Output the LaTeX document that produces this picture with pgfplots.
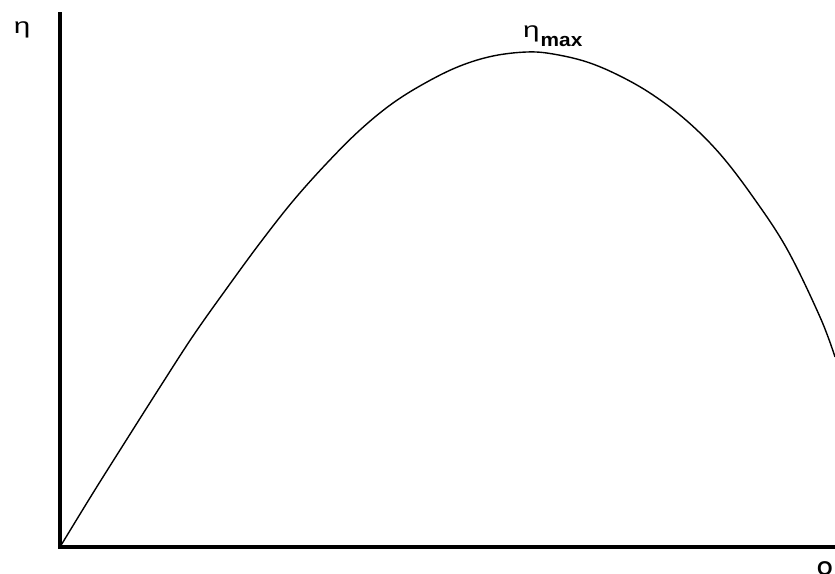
\documentclass[border=0pt]{standalone}
\usepackage{pgfplots}
\pgfplotsset{compat=1.18}
\usepackage{fontspec}
\setmainfont{Liberation Sans}

\begin{document}
\begin{tikzpicture}
\useasboundingbox (-60bp,-27bp) rectangle (775bp,547bp);
\begin{axis}[
  at={(0,0)}, anchor=origin,
  scale only axis,
  width=775bp, height=533bp,
  xmin=0, xmax=775, ymin=0, ymax=533,
  axis lines*=left,
  separate axis lines,
  every outer x axis line/.append style={line width=3.2bp, line cap=rect, -},
  every outer y axis line/.append style={line width=3.2bp, line cap=rect, -},
  ticks=none,
  clip=false,
]
% efficiency curve (pixel units)
\addplot[black, line width=1.4bp, smooth, tension=0.6] coordinates {
  (0,0) (33,54) (67,108) (100,160) (133,211) (167,259) (200,304)
  (233,346) (267,384) (300,417) (333,444) (367,465) (400,481)
  (433,491) (467,495) (493,493) (527,485) (560,471) (593,452)
  (627,426) (660,393) (693,350) (727,298) (760,230) (775,190)
};
\node[anchor=base, inner sep=0pt] at (axis cs:-38,513)
  {\fontsize{22}{22}\selectfont\scalebox{1.35}[1]{η}};
\node[anchor=base west, inner sep=0pt] at (axis cs:463,509)
  {\fontsize{22}{22}\selectfont\scalebox{1.35}[1]{η}\hspace{1bp}\raisebox{-9bp}{\fontsize{19}{19}\selectfont\bfseries\scalebox{1.1}[1]{max}}};
\node[anchor=north west, inner sep=0pt] at (axis cs:757,-14)
  {\fontsize{20}{20}\selectfont\bfseries Q};
\end{axis}
\end{tikzpicture}
\end{document}
